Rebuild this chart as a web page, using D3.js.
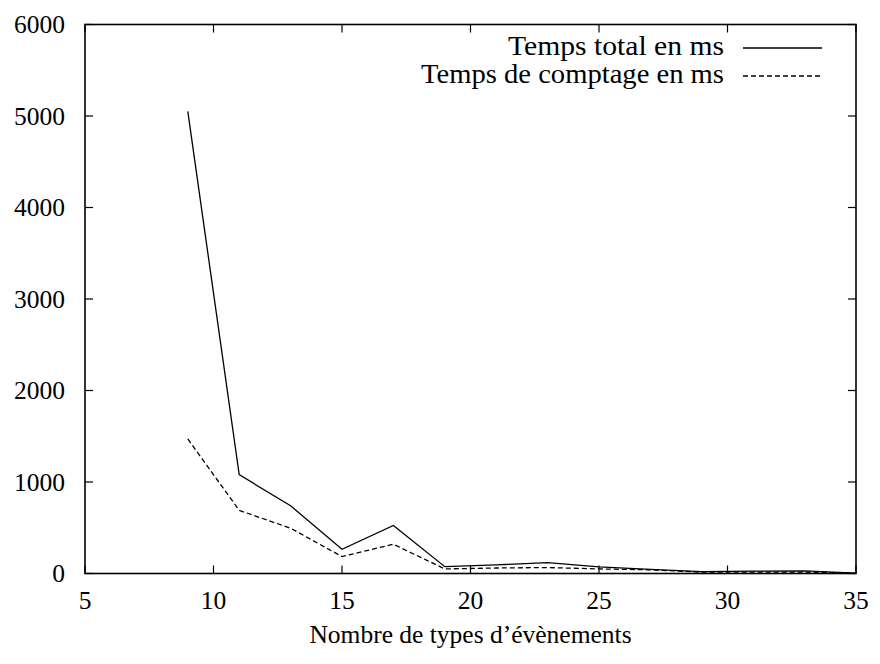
<!DOCTYPE html>
<html>
<head>
<meta charset="utf-8">
<script src="https://cdn.jsdelivr.net/npm/d3@7"></script>
<style>
  body { margin: 0; background: #fff; }
  text { font-family: "Liberation Serif", "Times New Roman", serif; fill: #000; }
</style>
</head>
<body>
<script>
// number of event types
var nbTypes = [9, 11, 13, 15, 17, 19, 21, 23, 25, 27, 29, 31, 33, 35];
// total time (ms)
var tempsTotal = [5050, 1080, 740, 265, 525, 75, 95, 118, 72, 45, 20, 25, 28, 5];
// counting time (ms)
var tempsComptage = [1470, 690, 495, 185, 320, 50, 60, 65, 50, 40, 15, 15, 15, 5];

var xTicks = [5, 10, 15, 20, 25, 30, 35];
var yTicks = [0, 1000, 2000, 3000, 4000, 5000, 6000];

var width = 880, height = 664;
var margin = { top: 24.5, right: 24, bottom: 90.5, left: 85 };

var svg = d3.select("body").append("svg")
    .attr("width", width)
    .attr("height", height);

var x = d3.scaleLinear().domain([5, 35]).range([margin.left, width - margin.right]);
var y = d3.scaleLinear().domain([0, 6000]).range([height - margin.bottom, margin.top]);

var fontSize = 25.5;
var tickLen = 8;

// ticks on all four sides (gnuplot style, inward)
var g = svg.append("g").attr("stroke", "#000").attr("stroke-width", 1.2);
xTicks.forEach(function (t) {
    g.append("line").attr("x1", x(t)).attr("x2", x(t)).attr("y1", y(0)).attr("y2", y(0) - tickLen);
    g.append("line").attr("x1", x(t)).attr("x2", x(t)).attr("y1", y(6000)).attr("y2", y(6000) + tickLen);
});
yTicks.forEach(function (t) {
    g.append("line").attr("x1", x(5)).attr("x2", x(5) + tickLen).attr("y1", y(t)).attr("y2", y(t));
    g.append("line").attr("x1", x(35)).attr("x2", x(35) - tickLen).attr("y1", y(t)).attr("y2", y(t));
});

// tick labels
svg.append("g").selectAll("text")
    .data(xTicks)
    .enter().append("text")
    .attr("x", function (d) { return x(d); })
    .attr("y", y(0) + 35)
    .attr("text-anchor", "middle")
    .style("font-size", fontSize + "px")
    .text(function (d) { return d; });

svg.append("g").selectAll("text")
    .data(yTicks)
    .enter().append("text")
    .attr("x", x(5) - 20)
    .attr("y", function (d) { return y(d) + 8.5; })
    .attr("text-anchor", "end")
    .style("font-size", fontSize + "px")
    .text(function (d) { return d; });

// axis title
svg.append("text")
    .attr("x", (x(5) + x(35)) / 2)
    .attr("y", 643)
    .attr("text-anchor", "middle")
    .style("font-size", fontSize + "px")
    .text("Nombre de types d\u2019\u00e9v\u00e8nements");

// data lines
var line = d3.line()
    .x(function (d) { return x(d[0]); })
    .y(function (d) { return y(d[1]); });

svg.append("path")
    .datum(d3.zip(nbTypes, tempsTotal))
    .attr("d", line)
    .attr("fill", "none")
    .attr("stroke", "#000")
    .attr("stroke-width", 1.3);

svg.append("path")
    .datum(d3.zip(nbTypes, tempsComptage))
    .attr("d", line)
    .attr("fill", "none")
    .attr("stroke", "#000")
    .attr("stroke-width", 1.3)
    .attr("stroke-dasharray", "5,3");

// frame
svg.append("rect")
    .attr("x", x(5))
    .attr("y", y(6000))
    .attr("width", x(35) - x(5))
    .attr("height", y(0) - y(6000))
    .attr("fill", "none")
    .attr("stroke", "#000")
    .attr("stroke-width", 1.6);

// legend (text stretched a bit, the original font is wider)
var legend = [
    { label: "Temps total en ms", dash: null, yy: 55, w: 216 },
    { label: "Temps de comptage en ms", dash: "5,3", yy: 83, w: 303 }
];
legend.forEach(function (l) {
    svg.append("text")
        .attr("x", 724 - l.w)
        .attr("y", l.yy)
        .attr("textLength", l.w)
        .attr("lengthAdjust", "spacingAndGlyphs")
        .style("font-size", "26.5px")
        .text(l.label);
    svg.append("line")
        .attr("x1", 743).attr("x2", 822)
        .attr("y1", l.yy - 7).attr("y2", l.yy - 7)
        .attr("stroke", "#000")
        .attr("stroke-width", 1.3)
        .attr("stroke-dasharray", l.dash);
});
</script>
</body>
</html>
